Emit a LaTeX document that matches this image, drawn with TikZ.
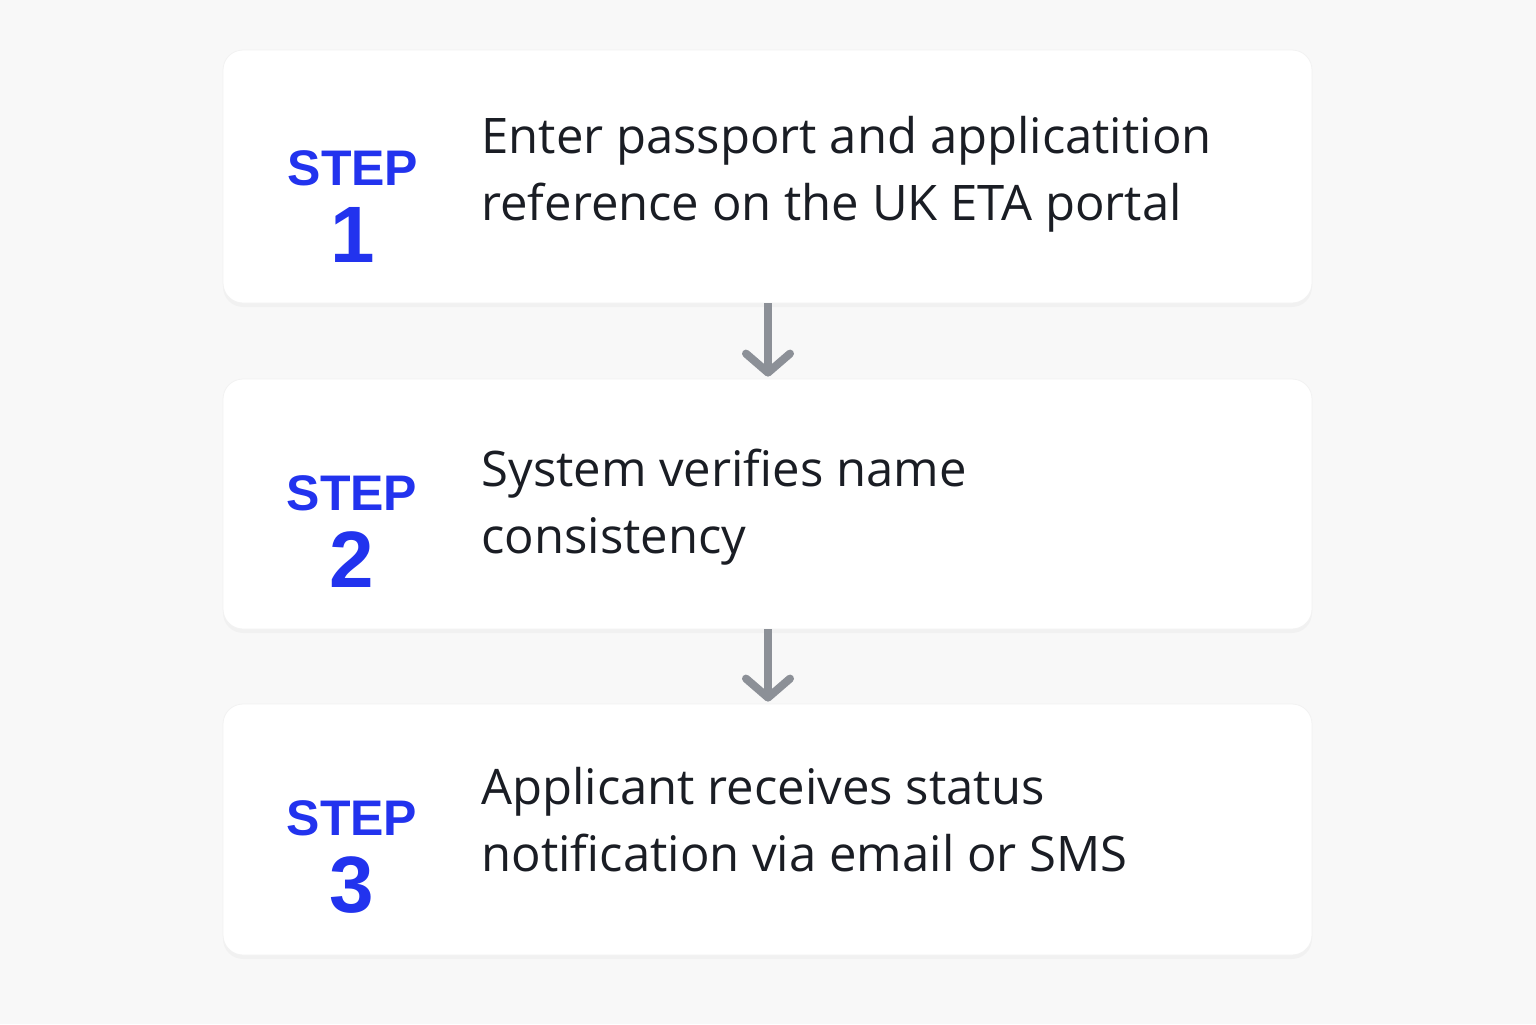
\documentclass[tikz,border=0pt]{standalone}
\usepackage{fontspec}
\setmainfont{Open Sans}
\newfontfamily\stepfont{Liberation Sans}
\usetikzlibrary{positioning, arrows.meta, shadows}

\definecolor{pagebg}{HTML}{F8F8F8}
\definecolor{stepblue}{HTML}{2233EE}
\definecolor{inkdark}{HTML}{1A1D24}
\definecolor{flowgray}{HTML}{8C9097}

\begin{document}
\begin{tikzpicture}[x=0.5pt, y=-0.5pt,
    card/.style={draw=black!5, fill=white, rounded corners=10pt, minimum width=544.5pt,
        inner sep=0pt, drop shadow={opacity=0.05, shadow xshift=0pt, shadow yshift=-2pt}},
    steplbl/.style={anchor=base, text=stepblue, font=\stepfont\bfseries\fontsize{25}{25}\selectfont},
    stepnum/.style={anchor=base, text=stepblue, font=\stepfont\bfseries\fontsize{40}{40}\selectfont},
    desc/.style={anchor=base west, align=left, text=inkdark, inner sep=0pt, font=\fontsize{24.5}{33.5}\selectfont},
    flow/.style={draw=flowgray, line width=4pt, -{Straight Barb[length=9.5pt, width=22pt, round]}}]
    \fill[pagebg] (0,0) rectangle (1536,1024);
    \node[card, minimum height=126.5pt] (box1) at (767.5,176.5) {};
    \node[card, minimum height=125pt]   (box2) at (767.5,504)   {};
    \node[card, minimum height=125.5pt] (box3) at (767.5,829.5) {};
    % step labels
    \node[steplbl] (lbl1) at (353,185) {STEP};
    \node[stepnum] (num1) at (353,262) {1};
    \node[steplbl] (lbl2) at (352,510) {STEP};
    \node[stepnum] (num2) at (352,587) {2};
    \node[steplbl] (lbl3) at (352,835) {STEP};
    \node[stepnum] (num3) at (352,912) {3};
    % descriptions (base = last line)
    \node[desc] (txt1) at (481,220) {Enter passport and applicatition\\reference on the UK ETA portal};
    \node[desc] (txt2) at (481,553) {System verifies name\\consistency};
    \node[desc] (txt3) at (481,871) {Applicant receives status\\notification via email or SMS};
    \draw[flow] (box1.south -| 768,0) -- ([yshift=1pt]box2.north -| 768,0);
    \draw[flow] (box2.south -| 768,0) -- ([yshift=1pt]box3.north -| 768,0);
\end{tikzpicture}
\end{document}
